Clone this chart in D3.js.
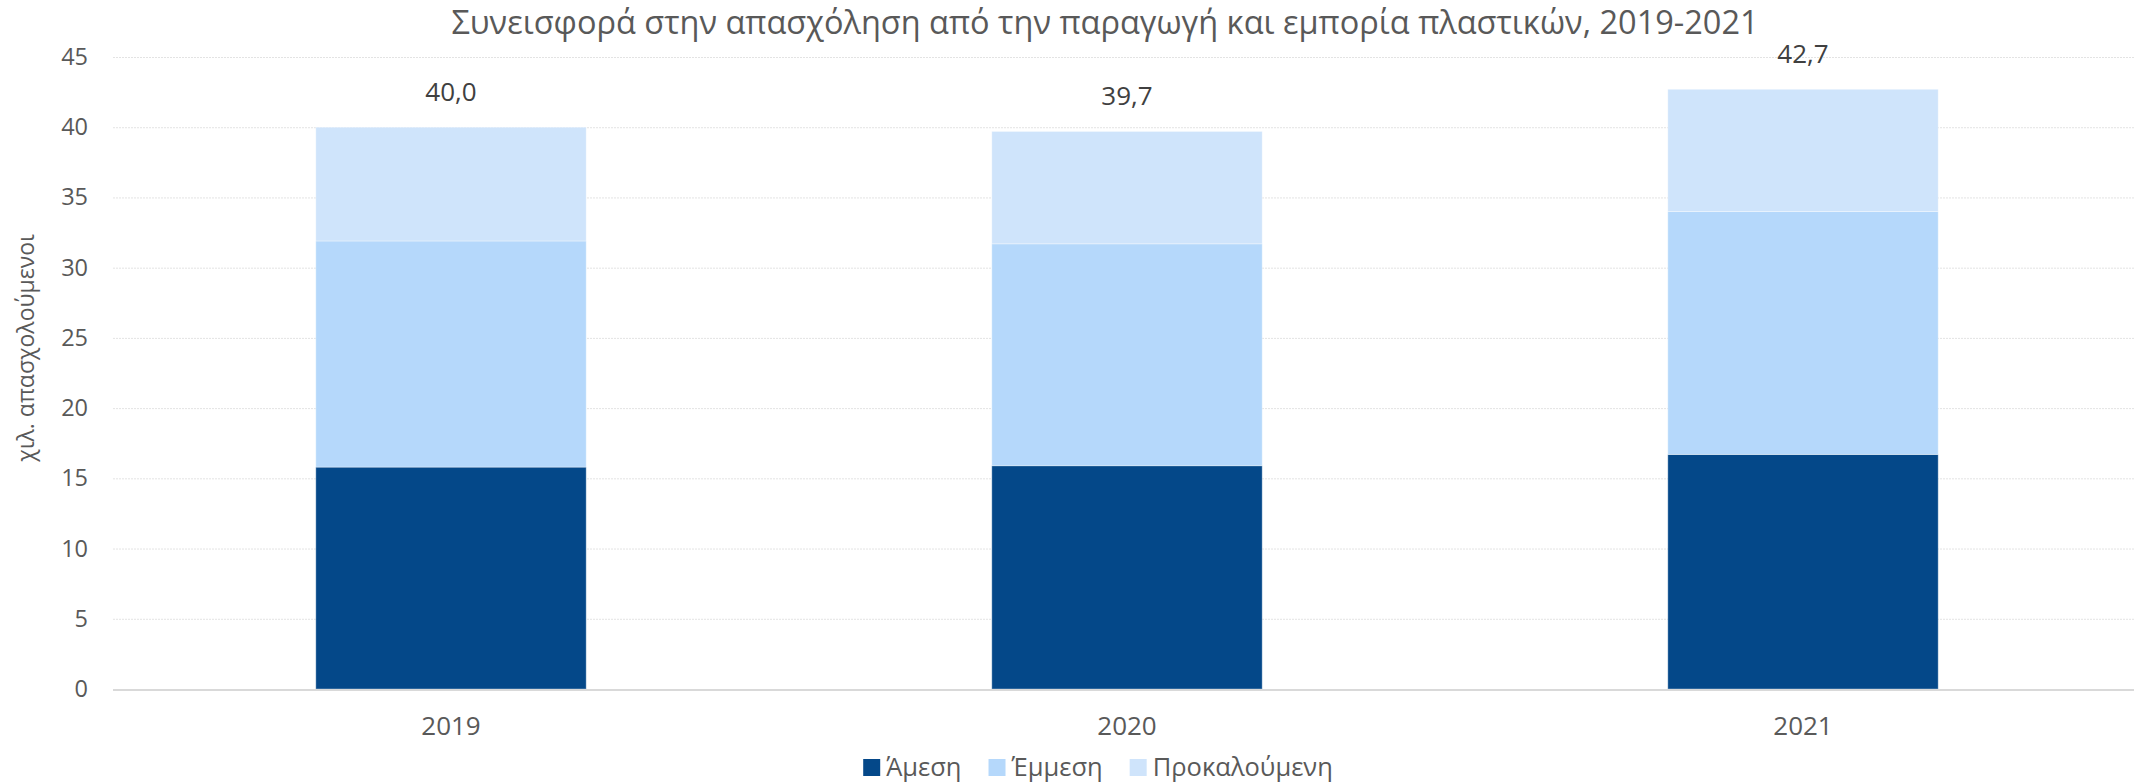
<!DOCTYPE html>
<html>
<head>
<meta charset="utf-8">
<script src="https://cdn.jsdelivr.net/npm/d3@7"></script>
<style>
  html, body { margin: 0; padding: 0; background: #fff; }
  svg { display: block; font-family: "Open Sans", "Noto Sans", sans-serif; }
</style>
</head>
<body>
<div id="chart"></div>
<script>
"use strict";

// data (χιλ. απασχολούμενοι)
const years = ["2019", "2020", "2021"];
const direct = [15.8, 15.9, 16.7];
const indirect = [16.1, 15.8, 17.3];
const induced = [8.1, 8.0, 8.7];
const seriesNames = ["Άμεση", "Έμμεση", "Προκαλούμενη"];
const yTicks = [0, 5, 10, 15, 20, 25, 30, 35, 40, 45];

const colors = ["#044889", "#b5d8fb", "#cfe4fb"];
const width = 2134;
const height = 783;
const plot = { left: 113, right: 2141, top: 57, bottom: 689 };

const rows = years.map((yr, i) => ({
  year: yr,
  [seriesNames[0]]: direct[i],
  [seriesNames[1]]: indirect[i],
  [seriesNames[2]]: induced[i],
}));

const svg = d3
  .select("#chart")
  .append("svg")
  .attr("width", width)
  .attr("height", height);

const x = d3
  .scaleBand()
  .domain(years)
  .range([plot.left, plot.right])
  .paddingInner(0.6)
  .paddingOuter(0.3);
const y = d3.scaleLinear().domain([0, 45]).range([plot.bottom, plot.top]);

// gridlines
const grid = svg
  .append("g")
  .attr("transform", `translate(${plot.left},0)`)
  .call(d3.axisLeft(y).tickValues(yTicks.slice(1)).tickSize(-(width - plot.left)).tickFormat(""));
grid.select(".domain").remove();
grid
  .selectAll(".tick line")
  .attr("stroke", "#e3e3e3")
  .attr("stroke-width", 1)
  .attr("stroke-dasharray", "2,1");

// stacked bars
const stack = d3.stack().keys(seriesNames);
const layers = stack(rows);

svg
  .append("g")
  .selectAll("g")
  .data(layers)
  .join("g")
  .attr("fill", (d, i) => colors[i])
  .selectAll("rect")
  .data((d) => d)
  .join("rect")
  .attr("x", (d) => x(d.data.year))
  .attr("width", x.bandwidth())
  .attr("y", (d) => y(d[1]))
  .attr("height", (d) => y(d[0]) - y(d[1]))
  .attr("stroke", "#ffffff")
  .attr("stroke-opacity", 0.35)
  .attr("stroke-width", 1);

// baseline
svg
  .append("line")
  .attr("x1", plot.left)
  .attr("x2", width)
  .attr("y1", y(0) + 1)
  .attr("y2", y(0) + 1)
  .attr("stroke", "#d9d9d9")
  .attr("stroke-width", 2);

// y axis
const yAxis = svg
  .append("g")
  .attr("transform", `translate(${plot.left},0)`)
  .call(d3.axisLeft(y).tickValues(yTicks).tickSize(0).tickPadding(25));
yAxis.select(".domain").remove();
yAxis
  .selectAll("text")
  .attr("fill", "#595959")
  .style("font-size", "23.5px")
  .style("font-family", "'Open Sans', sans-serif");

// x axis
const xAxis = svg
  .append("g")
  .attr("transform", `translate(0,${plot.bottom})`)
  .call(d3.axisBottom(x).tickSize(0).tickPadding(28));
xAxis.select(".domain").remove();
xAxis
  .selectAll("text")
  .attr("fill", "#595959")
  .style("font-size", "26px")
  .style("font-family", "'Open Sans', sans-serif");

// totals above bars
svg
  .append("g")
  .selectAll("text")
  .data(rows)
  .join("text")
  .attr("x", (d) => x(d.year) + x.bandwidth() / 2)
  .attr("y", (d) => y(d3.sum(seriesNames, (k) => d[k])) - 26)
  .attr("text-anchor", "middle")
  .attr("fill", "#404040")
  .style("font-size", "26px")
  .text((d) => d3.sum(seriesNames, (k) => d[k]).toFixed(1).replace(".", ","));

// title
svg
  .append("text")
  .attr("x", 1105)
  .attr("y", 34)
  .attr("text-anchor", "middle")
  .attr("fill", "#595959")
  .style("font-size", "32.5px")
  .text("Συνεισφορά στην απασχόληση από την παραγωγή και εμπορία πλαστικών, 2019-2021");

// y axis title
svg
  .append("text")
  .attr("transform", "translate(34,348) rotate(-90)")
  .attr("text-anchor", "middle")
  .attr("fill", "#595959")
  .style("font-size", "23px")
  .text("χιλ. απασχολούμενοι");

// legend
const legend = svg.append("g");
const items = legend
  .selectAll("g")
  .data(seriesNames)
  .join("g");
items
  .append("rect")
  .attr("width", 17)
  .attr("height", 17)
  .attr("y", 759)
  .attr("fill", (d, i) => colors[i]);
items
  .append("text")
  .attr("x", 23)
  .attr("y", 776)
  .attr("fill", "#595959")
  .style("font-size", "25.5px")
  .text((d) => d);

let offset = 0;
items.each(function placeItem() {
  d3.select(this).attr("transform", `translate(${offset},0)`);
  offset += this.getBBox().width + 27;
});
const legendW = offset - 27;
legend.attr("transform", `translate(${1098 - legendW / 2},0)`);
</script>
</body>
</html>
